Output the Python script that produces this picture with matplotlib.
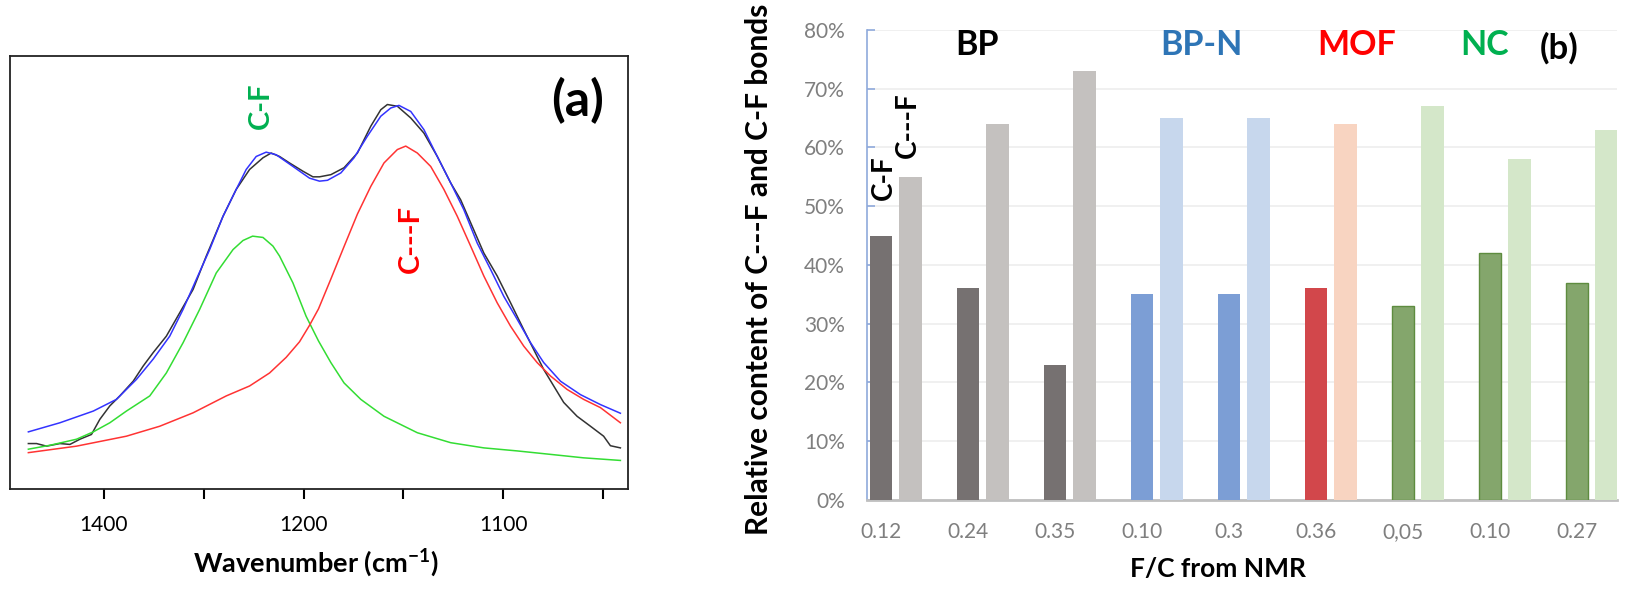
import matplotlib
matplotlib.use('Agg')
import matplotlib.pyplot as plt
import numpy as np
from matplotlib.ticker import FuncFormatter

plt.rcParams['font.family'] = ['Lato', 'DejaVu Sans']
plt.rcParams['mathtext.fontset'] = 'custom'
plt.rcParams['mathtext.rm'] = 'Lato'
plt.rcParams['mathtext.bf'] = 'Lato:bold'

# ---- (a) IR spectrum and fit ----
w_exp = [1337.8, 1333.7, 1328.7, 1322, 1317, 1312, 1306.2, 1302, 1297, 1292, 1285.3,
         1280.3, 1275.3, 1268.7, 1262, 1255.3, 1248.7, 1240.3, 1233.7, 1227, 1220.3,
         1216.2, 1212, 1207, 1200.3, 1195.3, 1192, 1186.3, 1179.7, 1173, 1166.3, 1161.3,
         1158, 1153, 1146.3, 1139.7, 1133, 1126.3, 1121.3, 1116.3, 1109.7, 1103, 1096.3,
         1089.7, 1084.7, 1079.7, 1074.7, 1069.7, 1063, 1056.3, 1049.7, 1046.3, 1041.3]
i_exp = [10.5, 10.5, 9.9, 10.5, 10.3, 11.5, 12.6, 16.1, 19.2, 21.5, 24.9,
         28.4, 31.5, 35.3, 40.7, 46.1, 53.8, 63.0, 69.2, 73.8, 76.5,
         77.6, 76.8, 75.3, 73.4, 72.1, 72.1, 72.6, 74.2, 77.6, 83.8, 87.6,
         88.8, 88.4, 85.7, 82.2, 76.8, 70.7, 66.8, 61.5, 54.5, 49.2, 43.0,
         36.8, 32.2, 27.6, 23.8, 20.0, 16.8, 14.5, 12.2, 10.0, 9.5]

w_fit = [1337.8, 1322, 1305.3, 1293.7, 1283.7, 1275.3, 1267, 1260.3, 1253.7, 1247,
         1240.3, 1233.7, 1228.7, 1223.7, 1218.7, 1213.7, 1205.3, 1197, 1192, 1188,
         1181.3, 1174.7, 1168, 1161.3, 1156.3, 1152.2, 1146.3, 1139.7, 1133, 1126.3,
         1119.7, 1113, 1106.3, 1099.7, 1093, 1086.3, 1079.7, 1071.3, 1061.3, 1051.3, 1041.3]
i_fit = [13.2, 15.3, 18.0, 20.7, 25.3, 30.0, 35.3, 41.5, 48.4, 55.3,
         63.0, 69.2, 73.8, 76.8, 77.8, 77.2, 74.5, 71.8, 71.1, 71.3,
         73.0, 76.5, 81.5, 86.1, 88.0, 88.6, 87.2, 83.0, 76.8, 70.7,
         64.5, 56.8, 50.7, 44.5, 39.2, 33.8, 29.2, 24.9, 21.8, 19.5, 17.5]

w_cf = [1337.8, 1327, 1313.7, 1305.3, 1297, 1288.7, 1277, 1268.7, 1260.3, 1252,
        1243.7, 1235.3, 1230.3, 1225.5, 1220.3, 1215.3, 1212, 1205.3, 1198.7, 1192.5,
        1186.3, 1179.7, 1171.3, 1159.7, 1143, 1126.3, 1109.7, 1093, 1076.3, 1059.7, 1041.3]
i_cf = [9.2, 10.1, 11.5, 13.2, 15.3, 18.0, 21.5, 26.8, 33.8, 41.5,
        49.9, 55.3, 57.4, 58.4, 58.1, 56.1, 53.8, 47.6, 39.9, 34.2,
        29.2, 24.5, 20.7, 16.8, 13.0, 10.7, 9.5, 8.8, 8.0, 7.2, 6.6]

w_csf = [1337.8, 1313.7, 1288.7, 1272, 1255.3, 1238.7, 1227, 1217, 1208.7, 1202,
         1197, 1192.5, 1186.3, 1179.7, 1173, 1166.3, 1159.7, 1153, 1148.8, 1143,
         1136.3, 1129.7, 1123, 1116.3, 1109.7, 1103, 1096.3, 1089.7, 1083, 1076.3,
         1068, 1059.7, 1051.3, 1041.3]
i_csf = [8.4, 9.9, 12.2, 14.5, 17.6, 21.5, 23.8, 26.8, 30.4, 34.0,
         37.8, 41.6, 48.5, 56.0, 63.5, 69.9, 75.3, 78.4, 79.2, 77.6,
         74.5, 69.2, 63.0, 56.1, 49.2, 43.0, 37.6, 33.0, 29.2, 26.1,
         23.0, 20.7, 18.8, 15.3]

tick_pos = [1300, 1250, 1200, 1150, 1100, 1050]
tick_lab = ['1400', '', '1200', '', '1100', '']

# ---- (b) relative content of bonds ----
fc_labels = ['0.12', '0.24', '0.35', '0.10', '0.3', '0.36', '0,05', '0.10', '0.27']
c_f = [45, 36, 23, 35, 35, 36, 33, 42, 37]
c_semi = [55, 64, 73, 65, 65, 64, 67, 58, 63]
groups = ['BP', 'BP', 'BP', 'BP-N', 'BP-N', 'MOF', 'NC', 'NC', 'NC']

dark_col = {'BP': '#767171', 'BP-N': '#7C9ED5', 'MOF': '#D2474B', 'NC': '#84A66C'}
light_col = {'BP': '#C4C1BF', 'BP-N': '#C7D7ED', 'MOF': '#F8D4C1', 'NC': '#D4E7C9'}

fig = plt.figure(figsize=(16.25, 5.96), dpi=100)

# (a)
ax1 = fig.add_axes([0.00615, 0.1795, 0.3803, 0.7265])
ax1.plot(w_exp, i_exp, color='#333333', lw=1.1)
ax1.plot(w_fit, i_fit, color='#3333FF', lw=1.1)
ax1.plot(w_cf, i_cf, color='#33DD33', lw=1.1)
ax1.plot(w_csf, i_csf, color='#FF3333', lw=1.1)
ax1.set_xlim(1347, 1037.5)
ax1.set_ylim(0, 100)
ax1.set_xticks(tick_pos)
ax1.set_xticklabels(tick_lab)
ax1.set_yticks([])
ax1.tick_params(axis='x', direction='out', length=7, width=1.5, labelsize=15, pad=12)
for s in ax1.spines.values():
    s.set_linewidth(1.3)
    s.set_color('#222222')
ax1.set_xlabel(r'Wavenumber (cm$^{\mathbf{-1}}$)', fontsize=19.5, fontweight='bold')
ax1.xaxis.set_label_coords(0.495, -0.132)
ax1.text(1221.5, 88.5, 'C-F', rotation=90, color='#00B050', fontsize=21,
         fontweight='bold', ha='center', va='center')
ax1.text(1146, 57.7, 'C---F', rotation=90, color='#FF0000', fontsize=21,
         fontweight='bold', ha='center', va='center')
ax1.text(0.919, 0.898, '(a)', transform=ax1.transAxes, fontsize=36,
         fontweight='bold', ha='center', va='center')

# (b)
ax2 = fig.add_axes([0.5335, 0.1611, 0.4615, 0.7886])
x = np.arange(len(fc_labels))
off = 0.34
bw = 0.255
for k in range(len(x)):
    g = groups[k]
    ec = '#5E8C3F' if g == 'NC' else 'none'
    ax2.bar(x[k], c_f[k] / 100, bw, color=dark_col[g], edgecolor=ec, lw=1.0, zorder=3)
    ax2.bar(x[k] + off, c_semi[k] / 100, bw, color=light_col[g], zorder=3)
ax2.set_xlim(-0.161, 8.46)
ax2.set_ylim(0, 0.8)
ax2.set_yticks(np.arange(0, 0.81, 0.1))
ax2.yaxis.set_major_formatter(FuncFormatter(lambda v, p: '%d%%' % round(v * 100)))
ax2.set_xticks(x)
ax2.set_xticklabels(fc_labels)
ax2.grid(axis='y', color='#EEEEEE', lw=1.2, zorder=0)
ax2.tick_params(axis='y', direction='in', length=6, color='#8FAADC', width=1.2,
                labelsize=15, labelcolor='#7F7F7F', pad=16)
ax2.tick_params(axis='x', length=0, labelsize=15, labelcolor='#7F7F7F', pad=16)
for s in ['top', 'right']:
    ax2.spines[s].set_visible(False)
ax2.spines['left'].set_color('#8FAADC')
ax2.spines['left'].set_linewidth(1.2)
ax2.spines['bottom'].set_color('#BFBFBF')
ax2.spines['bottom'].set_linewidth(2)
ax2.set_ylabel('Relative content of C---F and C-F bonds', fontsize=21.5, fontweight='bold')
ax2.yaxis.set_label_coords(-0.125, 0.49)
ax2.set_xlabel('F/C from NMR', fontsize=19, fontweight='bold')
ax2.xaxis.set_label_coords(0.468, -0.121)

name_pos = [1.10, 3.69, 5.47, 6.94]
name_txt = ['BP', 'BP-N', 'MOF', 'NC']
name_col = ['black', '#2E75B6', '#FF0000', '#00B050']
for k in range(4):
    ax2.text(name_pos[k], 0.774, name_txt[k], color=name_col[k], fontsize=24.5,
             fontweight='bold', ha='center', va='center')
ax2.text(7.80, 0.769, '(b)', fontsize=25, fontweight='bold', ha='center', va='center')
ax2.text(0.03, 0.548, 'C-F', rotation=90, fontsize=20, fontweight='bold',
         ha='center', va='center')
ax2.text(0.31, 0.638, 'C---F', rotation=90, fontsize=20, fontweight='bold',
         ha='center', va='center')

fig.savefig('out.png', dpi=100)
